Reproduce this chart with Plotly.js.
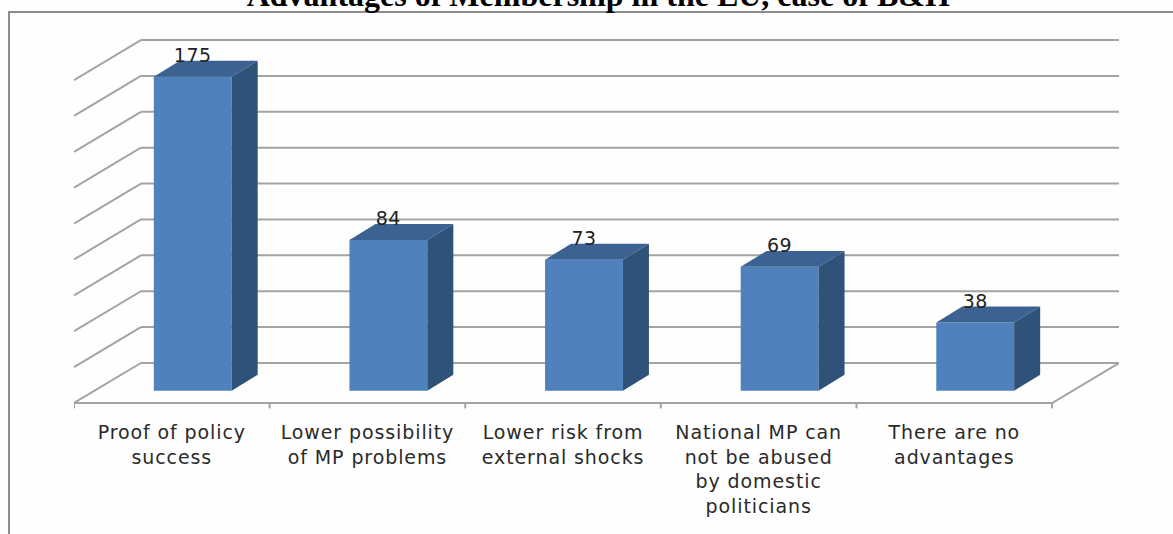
<!DOCTYPE html>
<html>
<head>
<meta charset="utf-8">
<script src="https://cdn.plot.ly/plotly-3.0.1.min.js"></script>
<style>
html,body{margin:0;padding:0;background:#fefefe}
#chart{width:1173px;height:534px}
.xtick text{letter-spacing:0.9px}
.scatterlayer .textpoint text{letter-spacing:0.5px}
</style>
</head>
<body>
<div id="chart"></div>
<script>
// Survey counts per answer
const categories = [
  "Proof of policy<br>success",
  "Lower possibility<br>of MP problems",
  "Lower risk from<br>external shocks",
  "National MP can<br>not be abused<br>by domestic<br>politicians",
  "There are no<br>advantages"
];
const values = [175, 84, 73, 69, 38];
const gridValues = [0, 20, 40, 60, 80, 100, 120, 140, 160, 180];
const chartTitle = "Advantages of Membership in the EU, case of B&H";

// Oblique projection used for the pseudo-3D look (axis units)
const wallDx = 0.342, wallDy = 22.3;     // floor depth
const barShiftX = 0.107, barBase = -15.4; // bar front plane
const barWidth = 0.398;
const sideDx = 0.133, sideDy = 8.9;      // bar depth
const tickDrop = 3;

const xs = categories.map((_, i) => i);
const xLeft = -0.5, xRight = categories.length - 0.5;

const frontColor = "#4f81bd", topColor = "#3b6291", sideColor = "#2f5278";
const gridColor = "#a3a3a3";

// Back wall lines and the matching diagonals on the left side wall
const shapes = [];
gridValues.forEach(v => {
  const seg = (x0, y0, x1, y1) => shapes.push({
    type: "line", xref: "x", yref: "y", layer: "below",
    x0, y0, x1, y1, line: {color: gridColor, width: 2}
  });
  seg(xLeft, v - wallDy, xLeft + wallDx, v);
  seg(xLeft + wallDx, v, xRight + wallDx, v);
});
// Outer chart frame, running past the right and bottom page edges
shapes.push({
  type: "rect", xref: "paper", yref: "paper", layer: "below",
  x0: -0.0622, x1: 1.1, y0: -0.4, y1: 1.0204,
  line: {color: "#8c8c8c", width: 2}
});

const topX = [], topY = [], sideX = [], sideY = [];
values.forEach((v, i) => {
  const l = i + barShiftX - barWidth / 2, r = l + barWidth, t = barBase + v;
  topX.push(l, r, r + sideDx, l + sideDx, l, null);
  topY.push(t, t, t + sideDy, t + sideDy, t, null);
  sideX.push(r, r + sideDx, r + sideDx, r, r, null);
  sideY.push(barBase, barBase + sideDy, t + sideDy, t, barBase, null);
});

// Floor front edge, its right diagonal and the tick marks between categories
const edgeX = [xLeft, xRight, xRight + wallDx];
const edgeY = [-wallDy, -wallDy, 0];
const tickX = [], tickY = [];
for (let i = 0; i <= categories.length; i++) {
  tickX.push(xLeft + i, xLeft + i, null);
  tickY.push(-wallDy, -wallDy - tickDrop, null);
}

const traces = [
  {type: "bar", x: xs.map(i => i + barShiftX), y: values, base: barBase, width: barWidth,
   marker: {color: frontColor, line: {width: 0}}, hoverinfo: "skip"},
  {type: "scatter", mode: "lines", x: sideX, y: sideY, fill: "toself", fillcolor: sideColor,
   line: {width: 0, color: sideColor}, hoverinfo: "skip"},
  {type: "scatter", mode: "lines", x: topX, y: topY, fill: "toself", fillcolor: topColor,
   line: {width: 0, color: topColor}, hoverinfo: "skip"},
  {type: "scatter", mode: "lines", x: edgeX, y: edgeY,
   line: {color: gridColor, width: 2}, hoverinfo: "skip"},
  {type: "scatter", mode: "lines", x: tickX, y: tickY,
   line: {color: gridColor, width: 2}, hoverinfo: "skip"},
  {type: "scatter", mode: "text", cliponaxis: false,
   x: xs.map(i => i + barShiftX),
   y: values.map(v => barBase + v + sideDy + 2),
   text: values.map(String),
   textfont: {family: "DejaVu Sans", size: 19, color: "#222"},
   hoverinfo: "skip"}
];

const layout = {
  width: 1173, height: 534,
  margin: {l: 74, r: 54, t: 20, b: 124},
  paper_bgcolor: "#fefefe", plot_bgcolor: "rgba(0,0,0,0)",
  showlegend: false,
  title: {
    text: "<b>" + chartTitle.replace("&", "&amp;") + "</b>",
    font: {family: "Liberation Serif", size: 32, color: "#000"},
    x: 0.51, xanchor: "center", y: 0.989, yanchor: "bottom", yref: "container",
    automargin: false
  },
  xaxis: {
    type: "linear", range: [xLeft, xRight + wallDx],
    tickmode: "array", tickvals: xs, ticktext: categories,
    ticks: "", showgrid: false, zeroline: false, showline: false,
    tickfont: {family: "DejaVu Sans", size: 19, color: "#2a2a2a"},
    ticklabelstandoff: 9
  },
  yaxis: {
    range: [-wallDy - 3.9, 191.2], showgrid: false, zeroline: false, showline: false,
    showticklabels: false, ticks: ""
  },
  shapes
};

Plotly.newPlot("chart", traces, layout, {displayModeBar: false, staticPlot: true});
</script>
</body>
</html>
